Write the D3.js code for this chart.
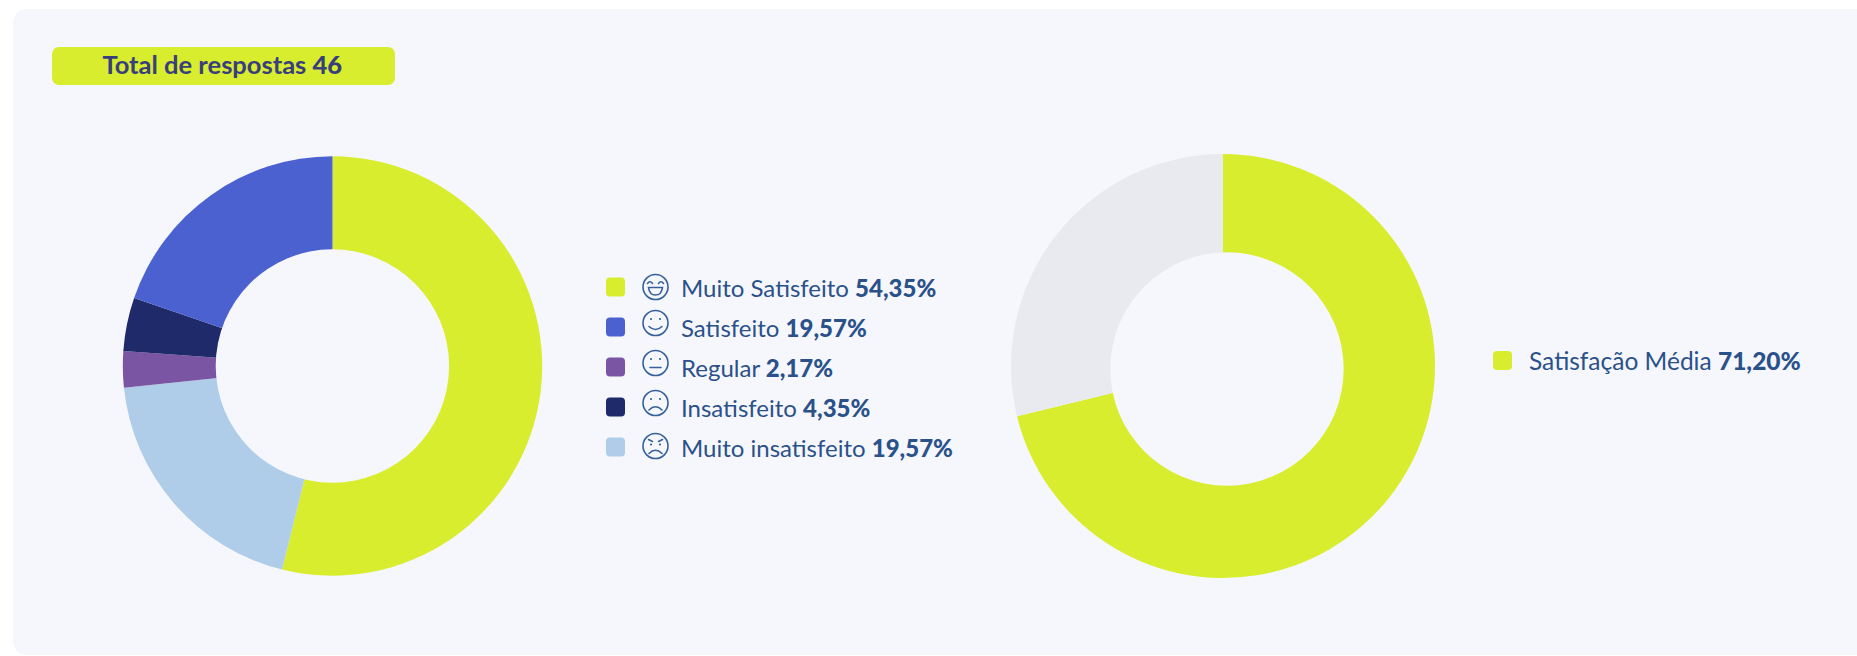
<!DOCTYPE html>
<html>
<head>
<meta charset="utf-8">
<script src="https://cdnjs.cloudflare.com/ajax/libs/d3/7.8.5/d3.min.js"></script>
<style>
  html, body { margin: 0; padding: 0; background: #fff; overflow: hidden; }
  text { font-family: Lato, "Open Sans", sans-serif; }
</style>
</head>
<body>
<svg id="chart" width="1857" height="656"></svg>
<script>
// legend text
var categories = ["Muito Satisfeito", "Satisfeito", "Regular", "Insatisfeito", "Muito insatisfeito"];
var valueLabels = ["54,35%", "19,57%", "2,17%", "4,35%", "19,57%"];
// slice sizes measured off the ring, they are not quite the printed labels
var values = [53.86, 19.75, 2.80, 4.11, 19.47];
var colors = ["#d7ed2d", "#4a61cf", "#7a55a3", "#1e2a69", "#afcde8"];
var faces = ["laugh", "smile", "neutral", "sad", "angry"];
// the slices run clockwise in a different order than the legend
var sliceOrder = [0, 4, 2, 3, 1];

var avgLabel = "Satisfação Média";
var avgValues = [71.20, 28.80];
var avgValueLabel = "71,20%";
var avgColors = ["#d7ed2d", "#e9eaef"];

var totalLabel = "Total de respostas";
var totalValue = "46";

var panelColor = "#f6f7fd";
var textColor = "#2a5189";
var svg = d3.select("#chart");

// background panel
svg.append("rect")
  .attr("x", 13).attr("y", 9)
  .attr("width", 1900).attr("height", 646)
  .attr("rx", 14)
  .attr("fill", panelColor);

// total badge
svg.append("rect")
  .attr("x", 52).attr("y", 47)
  .attr("width", 343).attr("height", 38)
  .attr("rx", 7)
  .attr("fill", "#d7ed2d");

var total = svg.append("text")
  .attr("x", 102.5).attr("y", 74)
  .attr("font-size", 25.5)
  .attr("font-weight", 700)
  .attr("fill", "#393f7d");
total.append("tspan").text(totalLabel + " ");
total.append("tspan").attr("font-weight", 900).text(totalValue);

// the hole is a separate circle, on the right ring it sits off centre
function drawDonut(cx, cy, outer, holeX, holeY, holeR, data, fills) {
  var pie = d3.pie().sort(null).value(function(d) { return d; });
  var arc = d3.arc().innerRadius(0).outerRadius(outer);
  svg.append("g")
    .attr("transform", "translate(" + cx + "," + cy + ")")
    .selectAll("path")
    .data(pie(data))
    .enter().append("path")
    .attr("d", arc)
    .attr("fill", function(d, i) { return fills[i]; });
  svg.append("circle")
    .attr("cx", holeX).attr("cy", holeY).attr("r", holeR)
    .attr("fill", panelColor);
}

drawDonut(332.5, 366, 209.7, 332.4, 366, 116.7,
  sliceOrder.map(function(i) { return values[i]; }),
  sliceOrder.map(function(i) { return colors[i]; }));
drawDonut(1223, 366, 212, 1227, 369, 116.7, avgValues, avgColors);

function drawFace(g, kind) {
  var stroke = "#36609a";
  g.attr("fill", "none").attr("stroke", stroke).attr("stroke-width", 1.6).attr("stroke-linecap", "round");
  g.append("circle").attr("r", 12.5);
  function eye(x, y) {
    g.append("circle").attr("cx", x).attr("cy", y).attr("r", 1.1).attr("fill", stroke).attr("stroke", "none");
  }
  if (kind == "laugh") {
    g.append("path").attr("d", "M-8,-3.5 Q-5.5,-7 -3,-3.5");
    g.append("path").attr("d", "M3,-3.5 Q5.5,-7 8,-3.5");
    g.append("path").attr("d", "M-7,0.5 H7 Q6,8 0,8 Q-6,8 -7,0.5 Z");
  } else if (kind == "smile") {
    eye(-4.5, -4); eye(4.5, -4);
    g.append("path").attr("d", "M-6.5,3.5 Q0,9.5 6.5,3.5");
  } else if (kind == "neutral") {
    eye(-4.5, -4); eye(4.5, -4);
    g.append("path").attr("d", "M-5.5,4.5 H5.5");
  } else if (kind == "sad") {
    eye(-4.5, -4); eye(4.5, -4);
    g.append("path").attr("d", "M-6.5,7 Q0,0.5 6.5,7");
  } else {
    g.append("path").attr("d", "M-7,-6.5 L-3,-4.5 M7,-6.5 L3,-4.5");
    eye(-4.5, -1.5); eye(4.5, -1.5);
    g.append("path").attr("d", "M-6.5,7.5 Q0,1 6.5,7.5");
  }
}

// first legend
var legendY = d3.scalePoint().domain(categories).range([287, 447]);
var faceY = [287, 323, 363, 403, 446];

var rows = svg.append("g").selectAll("g")
  .data(categories)
  .enter().append("g");

rows.append("rect")
  .attr("x", 606)
  .attr("y", function(d) { return legendY(d) - 9.5; })
  .attr("width", 19).attr("height", 19)
  .attr("rx", 4)
  .attr("fill", function(d, i) { return colors[i]; });

rows.append("g")
  .attr("transform", function(d, i) { return "translate(655.5," + faceY[i] + ")"; })
  .each(function(d, i) { drawFace(d3.select(this), faces[i]); });

var labels = rows.append("text")
  .attr("x", 681)
  .attr("y", function(d) { return legendY(d) + 10; })
  .attr("font-size", 24)
  .attr("fill", textColor);
labels.append("tspan").text(function(d) { return d + " "; });
labels.append("tspan").attr("font-weight", 900).text(function(d, i) { return valueLabels[i]; });

// second legend
svg.append("rect")
  .attr("x", 1493).attr("y", 351)
  .attr("width", 19).attr("height", 19)
  .attr("rx", 4)
  .attr("fill", avgColors[0]);

var avg = svg.append("text")
  .attr("x", 1529).attr("y", 370)
  .attr("font-size", 24.5)
  .attr("fill", textColor);
avg.append("tspan").text(avgLabel + " ");
avg.append("tspan").attr("font-weight", 900).text(avgValueLabel);
</script>
</body>
</html>
